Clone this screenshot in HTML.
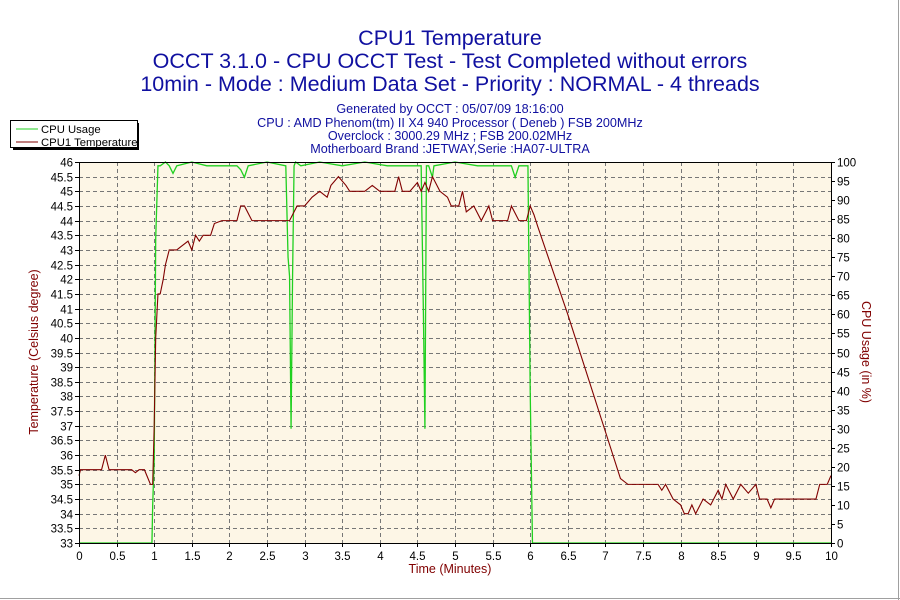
<!DOCTYPE html>
<html><head><meta charset="utf-8">
<style>
body{margin:0;background:#fff;}
svg{display:block;font-family:"Liberation Sans",sans-serif;}
</style></head>
<body>
<svg id="chart" width="900" height="600" xmlns="http://www.w3.org/2000/svg">
<rect x="0" y="0" width="900" height="600" fill="#fff"/>
<line x1="0" y1="598.5" x2="900" y2="598.5" stroke="#a0a0a0"/>
<line x1="898.5" y1="0" x2="898.5" y2="600" stroke="#a0a0a0"/>
<g fill="#1010a0" text-anchor="middle">
<text x="450" y="45" font-size="21.5">CPU1 Temperature</text>
<text x="450" y="68" font-size="21.5">OCCT 3.1.0 - CPU OCCT Test - Test Completed without errors</text>
<text x="450" y="91" font-size="21.5">10min - Mode : Medium Data Set - Priority : NORMAL - 4 threads</text>
<text x="450" y="113" font-size="12.6">Generated by OCCT : 05/07/09 18:16:00</text>
<text x="450" y="127" font-size="12.6">CPU : AMD Phenom(tm) II X4 940 Processor ( Deneb ) FSB 200MHz</text>
<text x="450" y="140" font-size="12.6">Overclock : 3000.29 MHz ; FSB 200.02MHz</text>
<text x="450" y="153" font-size="12.6">Motherboard Brand :JETWAY,Serie :HA07-ULTRA</text>
</g>
<g>
<rect x="13" y="123" width="126" height="27" fill="#000"/>
<rect x="10.5" y="120.5" width="127" height="27" fill="#fff" stroke="#000"/>
<line x1="16" y1="129" x2="38" y2="129" stroke="#20d020"/>
<text x="41" y="133" font-size="11.3" fill="#000">CPU Usage</text>
<line x1="16" y1="142" x2="38" y2="142" stroke="#800000"/>
<text x="41" y="146" font-size="11.3" fill="#000">CPU1 Temperature</text>
</g>
<rect x="79" y="162" width="752" height="381" fill="#fdf6e6"/>
<g id="grid"></g>
<g id="series"></g>
<g id="axes"></g>
<text x="450" y="573" font-size="12.5" fill="#800000" text-anchor="middle">Time (Minutes)</text>
<text transform="translate(38,352) rotate(-90)" font-size="12.5" fill="#800000" text-anchor="middle">Temperature (Celsius degree)</text>
<text transform="translate(862,352) rotate(90)" font-size="12.5" fill="#800000" text-anchor="middle">CPU Usage (in %)</text>
</svg>
<script>
const tempTimes=[0,0.02,0.3,0.35,0.4,0.7,0.75,0.8,0.87,0.95,0.98,1.0,1.02,1.05,1.08,1.12,1.15,1.2,1.3,1.35,1.45,1.5,1.55,1.6,1.65,1.75,1.8,1.9,2.1,2.15,2.2,2.3,2.8,2.9,3.0,3.1,3.2,3.3,3.35,3.45,3.55,3.6,3.8,3.9,4.0,4.2,4.25,4.3,4.4,4.5,4.55,4.6,4.65,4.7,4.8,4.9,4.95,5.05,5.1,5.15,5.25,5.35,5.45,5.5,5.7,5.75,5.85,5.95,6.0,6.05,6.1,6.5,7.0,7.2,7.3,7.7,7.75,7.8,7.9,8.0,8.05,8.1,8.15,8.2,8.3,8.4,8.5,8.55,8.6,8.7,8.8,8.9,9.0,9.05,9.15,9.2,9.25,9.8,9.85,9.95,10];
const tempValues=[35.3,35.5,35.5,36,35.5,35.5,35.4,35.5,35.5,35,35,37,40,41.5,41.5,42,42.5,43,43,43.1,43.3,43,43.5,43.3,43.5,43.5,43.9,44,44,44.5,44.5,44,44,44.5,44.5,44.8,45,44.8,45.2,45.5,45.2,45,45,45.2,45,45,45.5,45,45,45.3,45,45.3,45,45.5,45,44.8,44.5,44.5,45,44.3,44.5,44,44.5,44,44,44.5,44,44,44.5,44.2,43.8,40.8,36.8,35.2,35,35,34.8,35,34.5,34.3,34,34,34.3,34,34.5,34.3,34.8,34.5,35,34.5,35,34.7,35,34.5,34.5,34.2,34.5,34.5,35,35,35.3];
const cpuTimes=[0,0.97,0.98,1.0,1.02,1.05,1.08,1.15,1.2,1.25,1.3,1.5,1.7,2.1,2.15,2.2,2.25,2.5,2.75,2.78,2.8,2.82,2.84,2.86,2.88,2.95,3.2,3.5,3.8,4.1,4.55,4.58,4.6,4.62,4.65,4.7,4.72,5.0,5.3,5.75,5.8,5.85,5.97,6.0,6.03,10];
const cpuValues=[0,0,10,22,80,99,99,100,99,97,99,100,99,99,98,96,99,100,99,75,70,30,70,99,100,99,100,99,100,99,99,60,30,99,99,96,99,100,99,99,96,99,99,40,0,0];
const tempTicks=[33,33.5,34,34.5,35,35.5,36,36.5,37,37.5,38,38.5,39,39.5,40,40.5,41,41.5,42,42.5,43,43.5,44,44.5,45,45.5,46];
const cpuTicks=[0,5,10,15,20,25,30,35,40,45,50,55,60,65,70,75,80,85,90,95,100];
const xTicks=[0,0.5,1,1.5,2,2.5,3,3.5,4,4.5,5,5.5,6,6.5,7,7.5,8,8.5,9,9.5,10];
const L=79,R=831,T=162,B=543,NS="http://www.w3.org/2000/svg";
const xs=t=>L+(t-0)/(10-0)*(R-L);
const yT=v=>B-(v-33)/(46-33)*(B-T);
const yC=v=>B-v/100*(B-T);
function mk(tag,attrs,parent){const e=document.createElementNS(NS,tag);for(const k in attrs)e.setAttribute(k,attrs[k]);parent.appendChild(e);return e;}
const grid=document.getElementById('grid'),axes=document.getElementById('axes'),series=document.getElementById('series');
xTicks.forEach(t=>{const x=Math.round(xs(t))+0.5;
 if(t>0&&t<10){const g=mk('line',{x1:x,y1:T,x2:x,y2:B,stroke:'#777','stroke-dasharray':'4,3'},grid);
 
 }
 mk('line',{x1:x,y1:B,x2:x,y2:B+4,stroke:'#000'},axes);
 const l=mk('text',{x:x,y:B+17,'font-size':11.5,'text-anchor':'middle',fill:'#000'},axes);l.textContent=t;
 
 });
tempTicks.forEach(v=>{const y=Math.round(yT(v))+0.5;
 if(v>33&&v<46){const g=mk('line',{x1:L,y1:y,x2:R,y2:y,stroke:'#777','stroke-dasharray':'4,3'},grid);
 
 }
 mk('line',{x1:L-4,y1:y,x2:L,y2:y,stroke:'#000'},axes);
 const l=mk('text',{x:L-6,y:y+4,'font-size':11.5,'text-anchor':'end',fill:'#000'},axes);l.textContent=v;
 
 });
cpuTicks.forEach(v=>{const y=Math.round(yC(v))+0.5;
 mk('line',{x1:R,y1:y,x2:R+4,y2:y,stroke:'#000'},axes);
 const l=mk('text',{x:R+6,y:y+4,'font-size':11.5,'text-anchor':'start',fill:'#000'},axes);l.textContent=v;
 
 });
mk('rect',{x:L+0.5,y:T+0.5,width:R-L,height:B-T,fill:'none',stroke:'#000'},axes);
const cp=mk('polyline',{points:cpuTimes.map((t,i)=>xs(t)+','+yC(cpuValues[i])).join(' '),fill:'none',stroke:'#20d020','stroke-width':1.3},series);


const tp=mk('polyline',{points:tempTimes.map((t,i)=>xs(t)+','+yT(tempValues[i])).join(' '),fill:'none',stroke:'#800000','stroke-width':1.1},series);


</script>
</body></html>
